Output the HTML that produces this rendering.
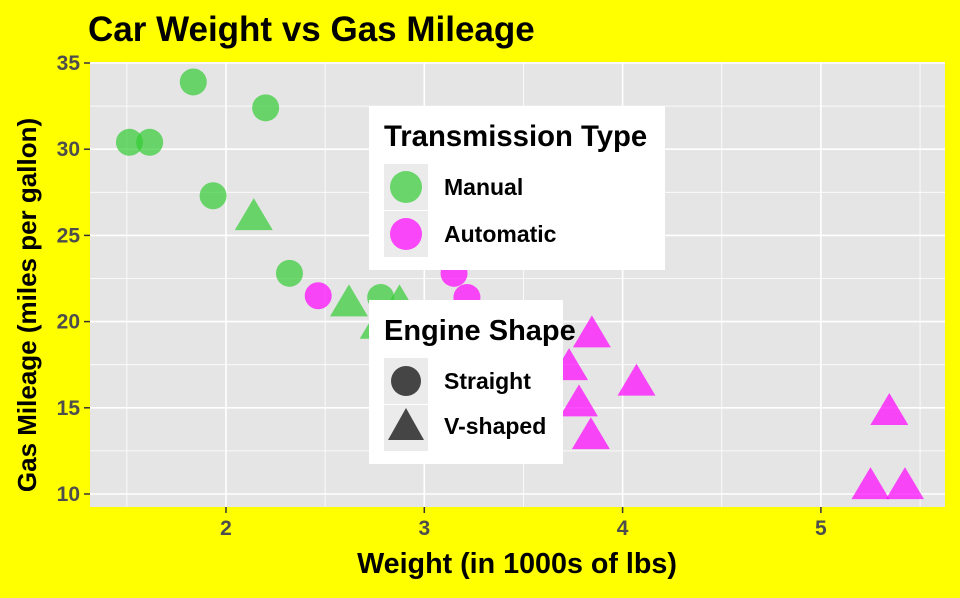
<!DOCTYPE html>
<html><head><meta charset="utf-8"><style>
body{margin:0;background:#ffff00;}
svg text{font-family:"Liberation Sans",sans-serif;font-weight:bold;}
</style></head><body>
<svg id="chart" width="960" height="593" viewBox="0 0 960 593">
<rect x="0" y="0" width="960" height="593" fill="#ffff00"/>
<text x="88" y="41" font-size="35" fill="#000">Car Weight vs Gas Mileage</text>
<rect x="90" y="62" width="855" height="445" fill="#e5e5e5"/>
<g id="grid"></g>
<g id="axes"></g>
<g id="points"></g>
<text x="517" y="573" font-size="28.7" text-anchor="middle" fill="#000">Weight (in 1000s of lbs)</text>
<text transform="translate(36,305) rotate(-90)" font-size="26" text-anchor="middle" fill="#000">Gas Mileage (miles per gallon)</text>
<g>
<rect x="369" y="106" width="296" height="164" fill="#fff"/>
<text x="384" y="146" font-size="29.3" fill="#000">Transmission Type</text>
<rect x="384" y="164" width="44" height="46" fill="#ebebeb"/>
<rect x="384" y="211" width="44" height="46" fill="#ebebeb"/>
<circle cx="406" cy="187" r="16" fill="#33cc33" fill-opacity="0.7"/>
<circle cx="406" cy="234" r="16" fill="#ff00ff" fill-opacity="0.7"/>
<text x="444" y="195" font-size="23" fill="#000">Manual</text>
<text x="444" y="242" font-size="23" fill="#000">Automatic</text>
</g>
<g>
<rect x="369" y="300" width="194" height="164" fill="#fff"/>
<text x="384" y="340" font-size="29" fill="#000">Engine Shape</text>
<rect x="384" y="358" width="44" height="46" fill="#ebebeb"/>
<rect x="384" y="405" width="44" height="46" fill="#ebebeb"/>
<circle cx="406" cy="381" r="15" fill="#333" fill-opacity="0.9"/>
<polygon points="406,408 424,440 388,440" fill="#333" fill-opacity="0.9"/>
<text x="444" y="389" font-size="23" fill="#000">Straight</text>
<text x="444" y="434" font-size="23" fill="#000">V-shaped</text>
</g>
</svg>
<script>
const weights=[2.620,2.875,2.320,3.215,3.440,3.460,3.570,3.190,3.150,3.440,3.440,4.070,3.730,3.780,5.250,5.424,5.345,2.200,1.615,1.835,2.465,3.520,3.435,3.840,3.845,1.935,2.140,1.513,3.170,2.770,3.570,2.780];
const mpgs=[21.0,21.0,22.8,21.4,18.7,18.1,14.3,24.4,22.8,19.2,17.8,16.4,17.3,15.2,10.4,10.4,14.7,32.4,30.4,33.9,21.5,15.5,15.2,13.3,19.2,27.3,26.0,30.4,15.8,19.7,15.0,21.4];
const vs=[0,0,1,1,0,1,0,1,1,1,1,0,0,0,0,0,0,1,1,1,1,0,0,0,0,1,0,1,0,0,0,1];
const am=[1,1,1,0,0,0,0,0,0,0,0,0,0,0,0,0,0,1,1,1,0,0,0,0,0,1,1,1,1,1,1,1];
const xTicks=[2,3,4,5];
const yTicks=[10,15,20,25,30,35];
const NS="http://www.w3.org/2000/svg";
const xs=v=>226+(v-2)*198.3;
const ys=v=>494-(v-10)*17.24;
const grid=document.getElementById('grid'),axes=document.getElementById('axes'),pts=document.getElementById('points');
function mk(tag,attrs,parent){const e=document.createElementNS(NS,tag);for(const k in attrs)e.setAttribute(k,attrs[k]);parent.appendChild(e);return e;}
for(let i=0;i<xTicks.length;i++){
 const t=xTicks[i];
 const l=mk('line',{x1:xs(t),x2:xs(t),y1:62,y2:507,stroke:'#fff','stroke-width':1.6},grid);
 
 
 const m=mk('line',{x1:xs(t-0.5),x2:xs(t-0.5),y1:62,y2:507,stroke:'#fff','stroke-width':0.8},grid);
 
 
 mk('line',{x1:xs(t),x2:xs(t),y1:507,y2:513,stroke:'#333','stroke-width':1.5},axes);
 const tx=mk('text',{x:xs(t),y:535,'font-size':21,'text-anchor':'middle',fill:'#4d4d4d'},axes);
 tx.textContent=t;
 
 
}
const mm=mk('line',{x1:xs(5.5),x2:xs(5.5),y1:62,y2:507,stroke:'#fff','stroke-width':0.8},grid);


for(let i=0;i<yTicks.length;i++){
 const t=yTicks[i];
 const l=mk('line',{x1:90,x2:945,y1:ys(t),y2:ys(t),stroke:'#fff','stroke-width':1.6},grid);
 
 
 if(t<35){const m=mk('line',{x1:90,x2:945,y1:ys(t+2.5),y2:ys(t+2.5),stroke:'#fff','stroke-width':0.8},grid);
 
 }
 mk('line',{x1:84,x2:90,y1:ys(t),y2:ys(t),stroke:'#333','stroke-width':1.5},axes);
 const tx=mk('text',{x:80,y:ys(t)+7,'font-size':21,'text-anchor':'end',fill:'#4d4d4d'},axes);
 tx.textContent=t;
 
 
}
for(let i=0;i<weights.length;i++){
 const cx=xs(weights[i]),cy=ys(mpgs[i]);
 const col=am[i]?'#33cc33':'#ff00ff';
 let e;
 if(vs[i]) e=mk('circle',{cx:cx,cy:cy,r:13.5,fill:col,'fill-opacity':0.7},pts);
 else e=mk('polygon',{points:`${cx},${cy-20} ${cx+19},${cy+12} ${cx-19},${cy+12}`,fill:col,'fill-opacity':0.7},pts);
 
 
}
</script>
</body></html>
